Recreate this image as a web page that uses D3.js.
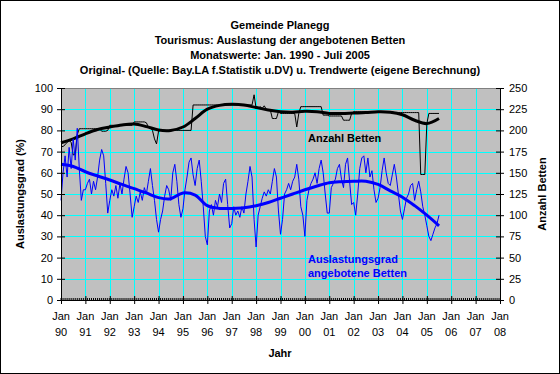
<!DOCTYPE html>
<html>
<head>
<meta charset="utf-8">
<script src="https://cdn.jsdelivr.net/npm/d3@7"></script>
<style>
  body { margin: 0; background: #fff; }
  svg { display: block; font-family: "Liberation Sans", Arial, sans-serif; }
</style>
</head>
<body>
<div id="wrapper"></div>
<script>
// Titles
const titleLines = [
    "Gemeinde Planegg",
    "Tourismus: Auslastung der angebotenen Betten",
    "Monatswerte: Jan. 1990 - Juli 2005",
    "Original- (Quelle: Bay.LA f.Statistik u.DV) u. Trendwerte (eigene Berechnung)"
]
// x axis tick labels (one per January)
const yearLabels = ["90","91","92","93","94","95","96","97","98","99","00","01","02","03","04","05","06","07","08"]
const pctTicks = [0,10,20,30,40,50,60,70,80,90,100]
const bedTicks = [0,25,50,75,100,125,150,175,200,225,250]

// Auslastungsgrad (%) monthly, Jan 1990 - Jul 2005
const auslastung = [
    47, 60, 68, 58, 72, 62, 76, 66, 81, 62, 47, 52,
    52, 55, 57, 50, 56, 52, 58, 66, 71, 68, 55, 41,
    47, 52, 49, 54, 48, 55, 50, 57, 63, 60, 50, 39,
    44, 49, 46, 51, 47, 53, 50, 56, 62, 54, 47, 38,
    32, 38, 42, 49, 54, 52, 47, 60, 64, 56, 45, 39,
    43, 52, 58, 65, 67, 59, 54, 62, 66, 56, 44, 30,
    26, 42, 45, 40, 47, 44, 50, 46, 55, 57, 45, 34,
    36, 44, 40, 42, 39, 44, 41, 50, 56, 63, 58, 38,
    25, 40, 44, 48, 51, 49, 52, 50, 56, 62, 58, 42,
    31, 38, 50, 52, 55, 52, 56, 58, 64, 57, 44, 40,
    30, 47, 52, 55, 57, 60, 55, 62, 66, 60, 50, 41,
    41, 53, 55, 57, 62, 64, 57, 53, 64, 67, 56, 45,
    46, 40, 50, 62, 67, 68, 60, 67, 58, 61, 52, 46,
    48, 53, 61, 67, 60, 55, 54, 59, 64, 58, 50, 42,
    38, 43, 48, 50, 54, 55, 47, 52, 56, 51, 44, 40,
    35, 30, 28, 31, 34, 36, 40
]
// Anzahl Betten monthly, Jan 1990 - Jul 2005
const betten = [
    181, 181, 183, 186, 188, 186, 171, 172, 195, 202, 202, 202,
    202, 202, 202, 202, 202, 202, 202, 202, 199, 199, 199, 200,
    206, 206, 206, 206, 206, 206, 206, 206, 206, 206, 206, 206,
    210, 210, 210, 210, 210, 210, 209, 204, 203, 200, 190, 184,
    199, 200, 200, 200, 200, 200, 200, 200, 200, 200, 200, 200,
    200, 200, 200, 200, 200, 230, 230, 230, 230, 230, 230, 230,
    230, 230, 230, 230, 230, 230, 230, 230, 230, 230, 230, 230,
    230, 230, 230, 230, 230, 230, 230, 230, 230, 230, 230, 242,
    226, 226, 228, 226, 229, 225, 224, 224, 214, 214, 214, 222,
    220, 220, 220, 220, 220, 220, 220, 220, 204, 220, 228, 228,
    228, 228, 228, 228, 228, 228, 228, 228, 228, 218, 218, 218,
    217, 217, 217, 217, 217, 217, 217, 212, 212, 212, 212, 220,
    222, 222, 222, 222, 222, 222, 222, 222, 222, 222, 222, 222,
    222, 222, 222, 222, 222, 222, 222, 222, 221, 221, 221, 221,
    221, 221, 221, 221, 221, 221, 221, 221, 221, 148, 148, 148,
    208, 220, 220, 220, 220, 220, 220
]
// Trend values, read every 6 months (month index from Jan 1990)
const trendMonths = [0,6,12,18,24,30,36,42,48,54,60,66,72,78,84,90,96,102,108,114,120,126,132,138,144,150,156,162,168,174,180,186]
const auslastungTrend = [64, 63, 60.5, 58.5, 56.6, 54.5, 52.5, 50.5, 48.3, 47.8, 50.5, 49.5, 44.5, 43.2, 43.2, 43.5,
    44.5, 46, 48, 50, 52, 53.8, 55.3, 55.8, 56, 56, 54.5, 51.5, 48.5, 44.5, 40, 35]
const bettenTrend = [185.5, 190, 196, 201, 204, 206.5, 207.5, 204.5, 200.5, 200, 204, 214, 225, 229.5, 230.8, 230,
    227, 224, 222, 221.5, 222.5, 222, 220, 220, 220.5, 221, 222, 221.5, 218.5, 212, 208, 214]

let dimensions = {
    width: 560,
    height: 374,
    margins: { top: 88, right: 60, bottom: 74, left: 61 }
}
dimensions.boundedWidth = dimensions.width - dimensions.margins.left - dimensions.margins.right
dimensions.boundedHeight = dimensions.height - dimensions.margins.top - dimensions.margins.bottom

const wrapper = d3.select("#wrapper")
    .append("svg")
        .attr("width", dimensions.width)
        .attr("height", dimensions.height)

// outer frame
wrapper.append("rect")
    .attr("x", 0.5).attr("y", 0.5)
    .attr("width", dimensions.width - 1).attr("height", dimensions.height - 1)
    .attr("fill", "#fff").attr("stroke", "#000")

// titles
wrapper.append("g").selectAll("text")
    .data(titleLines)
    .join("text")
        .attr("x", 280)
        .attr("y", (d, i) => 29 + i * 15)
        .attr("text-anchor", "middle")
        .style("font-size", "11px")
        .style("font-weight", "bold")
        .text(d => d)

const bounds = wrapper.append("g")
    .attr("transform", `translate(${dimensions.margins.left},${dimensions.margins.top})`)

// scales
const xScale = d3.scaleLinear()
    .domain([0, 216])
    .range([0, dimensions.boundedWidth])
const yPct = d3.scaleLinear()
    .domain([0, 100])
    .range([dimensions.boundedHeight, 0])
const yBed = d3.scaleLinear()
    .domain([0, 250])
    .range([dimensions.boundedHeight, 0])

// plot background
bounds.append("rect")
    .attr("width", dimensions.boundedWidth)
    .attr("height", dimensions.boundedHeight)
    .attr("fill", "#c0c0c0")

// grid lines
const yearMonths = yearLabels.map((d, i) => i * 12)
bounds.append("g").selectAll("line")
    .data(yearMonths.slice(1, -1))
    .join("line")
        .attr("x1", d => Math.round(xScale(d)) + 0.5).attr("x2", d => Math.round(xScale(d)) + 0.5)
        .attr("y1", 0).attr("y2", dimensions.boundedHeight)
        .attr("stroke", "#00ffff")
bounds.append("g").selectAll("line")
    .data(pctTicks.slice(1, -1))
    .join("line")
        .attr("x1", 0).attr("x2", dimensions.boundedWidth)
        .attr("y1", d => Math.round(yPct(d)) + 0.5).attr("y2", d => Math.round(yPct(d)) + 0.5)
        .attr("stroke", "#00ffff")
// top border
bounds.append("line")
    .attr("x1", 0).attr("x2", dimensions.boundedWidth)
    .attr("y1", 0.5).attr("y2", 0.5)
    .attr("stroke", "#808080")

// lines
const bedLine = d3.line()
    .x((d, i) => xScale(i))
    .y(d => yBed(d))
const pctLine = d3.line()
    .x((d, i) => xScale(i))
    .y(d => yPct(d))
const bedTrendLine = d3.line()
    .x((d, i) => xScale(trendMonths[i]))
    .y(d => yBed(d))
    .curve(d3.curveCatmullRom)
const pctTrendLine = d3.line()
    .x((d, i) => xScale(trendMonths[i]))
    .y(d => yPct(d))
    .curve(d3.curveCatmullRom)

bounds.append("path")
    .attr("d", bedLine(betten))
    .attr("fill", "none").attr("stroke", "#000").attr("stroke-width", 1)
bounds.append("path")
    .attr("d", bedTrendLine(bettenTrend))
    .attr("fill", "none").attr("stroke", "#000").attr("stroke-width", 3)
bounds.append("path")
    .attr("d", pctLine(auslastung))
    .attr("fill", "none").attr("stroke", "#0000ff").attr("stroke-width", 1)
bounds.append("path")
    .attr("d", pctTrendLine(auslastungTrend))
    .attr("fill", "none").attr("stroke", "#0000ff").attr("stroke-width", 3)

// series labels
bounds.append("text")
    .attr("x", 247).attr("y", 54)
    .style("font-size", "11px").style("font-weight", "bold")
    .attr("fill", "#000")
    .text("Anzahl Betten")
bounds.append("g").selectAll("text")
    .data(["Auslastungsgrad", "angebotene Betten"])
    .join("text")
        .attr("x", 247)
        .attr("y", (d, i) => 175 + i * 14)
        .style("font-size", "11px").style("font-weight", "bold")
        .attr("fill", "#0000ff")
        .text(d => d)

// axes
const yAxisLeft = bounds.append("g")
    .call(d3.axisLeft(yPct).tickValues(pctTicks).tickSize(4).tickPadding(4))
yAxisLeft.selectAll(".tick line").attr("x1", 4)

const yAxisRight = bounds.append("g")
    .attr("transform", `translate(${dimensions.boundedWidth},0)`)
    .call(d3.axisRight(yBed).tickValues(bedTicks).tickSize(4).tickPadding(5))
yAxisRight.selectAll(".tick line").attr("x1", -4)

const xAxis = bounds.append("g")
    .attr("transform", `translate(0,${dimensions.boundedHeight})`)
    .call(d3.axisBottom(xScale).tickValues(yearMonths).tickSize(4).tickFormat(""))
xAxis.selectAll(".tick line").attr("y1", -4)
// monthly minor ticks
xAxis.append("g").selectAll("line")
    .data(d3.range(0, 217))
    .join("line")
        .attr("x1", d => xScale(d)).attr("x2", d => xScale(d))
        .attr("y1", 0).attr("y2", -2)
        .attr("stroke", "#000")

// two-line x labels
const xLabels = xAxis.append("g").selectAll("g")
    .data(yearLabels)
    .join("g")
        .attr("transform", (d, i) => `translate(${xScale(i * 12)},0)`)
xLabels.append("text")
    .attr("y", 20).attr("text-anchor", "middle")
    .text("Jan")
xLabels.append("text")
    .attr("y", 36).attr("text-anchor", "middle")
    .text(d => d)

;[yAxisLeft, yAxisRight, xAxis].forEach(a => {
    a.select(".domain").attr("stroke", "#000")
    a.selectAll("text").attr("fill", "#000").style("font-size", "11px")
        .style("font-family", "'Liberation Sans', Arial, sans-serif")
})

// axis titles
wrapper.append("text")
    .attr("x", 280).attr("y", 357)
    .attr("text-anchor", "middle")
    .style("font-size", "11px").style("font-weight", "bold")
    .text("Jahr")
wrapper.append("text")
    .attr("transform", "translate(24,194) rotate(-90)")
    .attr("text-anchor", "middle")
    .style("font-size", "11px").style("font-weight", "bold")
    .text("Auslastungsgrad (%)")
wrapper.append("text")
    .attr("transform", "translate(546,194) rotate(-90)")
    .attr("text-anchor", "middle")
    .style("font-size", "11px").style("font-weight", "bold")
    .text("Anzahl Betten")
</script>
</body>
</html>
